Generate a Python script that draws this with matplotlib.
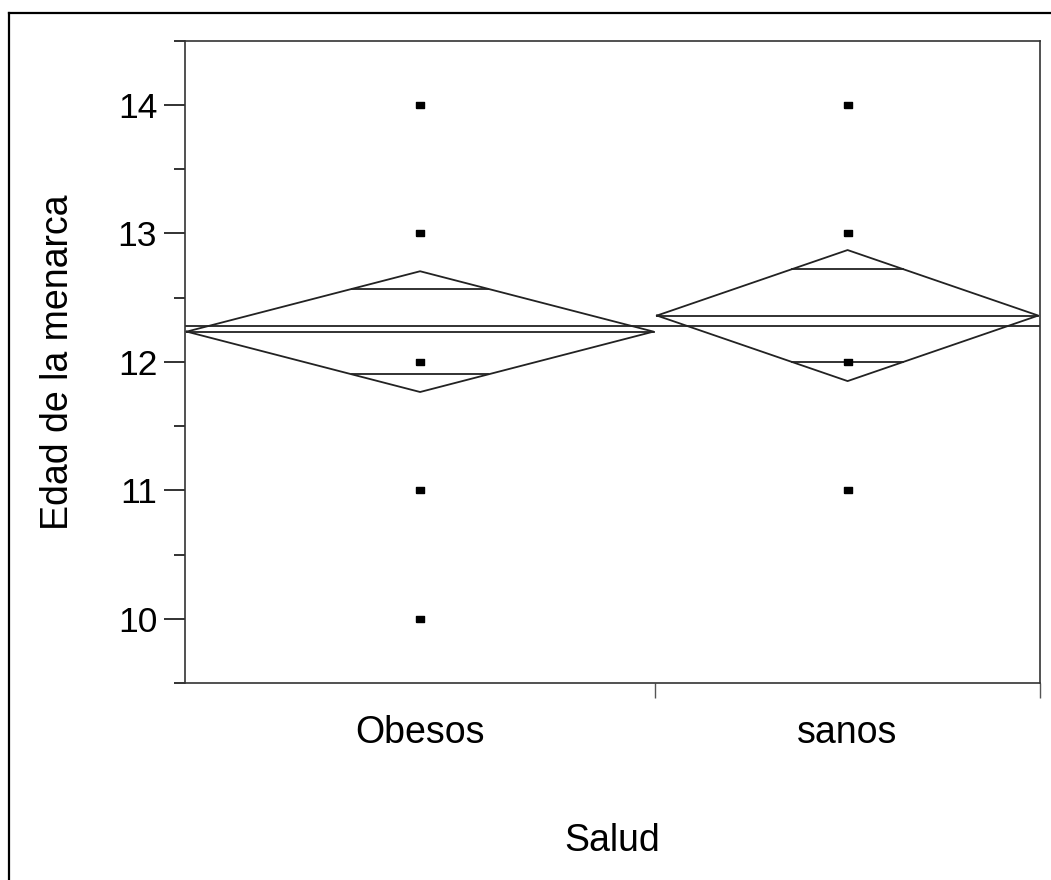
import numpy as np
import matplotlib
matplotlib.use("Agg")
import matplotlib.pyplot as plt
from matplotlib.lines import Line2D

plt.rcParams['font.family'] = ['Liberation Sans', 'DejaVu Sans']

# datos
grupos = ["Obesos", "sanos"]
n_grupo = [22, 18]
medias = [12.235, 12.36]
ic_mitad = [0.47, 0.51]     # mitad del intervalo de confianza 95%
media_total = 12.28
valores = [[10, 11, 12, 13, 14],
           [11, 12, 13, 14]]

fig = plt.figure(figsize=(10.51, 8.8), dpi=100)
ax = fig.add_axes([0.176, 0.2239, 0.8135, 0.7299])

col = '#222222'
lw = 1.3

# posiciones de los grupos segun tamano de muestra
bordes = np.concatenate([[0], np.cumsum(n_grupo)]) / sum(n_grupo)
centros = (bordes[:-1] + bordes[1:]) / 2
gap = 0.002

ax.axhline(media_total, color=col, lw=lw)

for i in range(len(grupos)):
    x0, x1, xc = bordes[i] + gap, bordes[i + 1] - gap, centros[i]
    m, h = medias[i], ic_mitad[i]
    # diamante
    ax.plot([x0, xc, x1, xc, x0], [m, m + h, m, m - h, m], color=col, lw=lw)
    ax.plot([x0, x1], [m, m], color=col, lw=lw)
    # marcas de solapamiento
    d = h / np.sqrt(2)
    hw = (xc - x0) * (1 - d / h)
    for s in (1, -1):
        ax.plot([xc - hw, xc + hw], [m + s * d, m + s * d], color=col, lw=lw)
    # puntos
    rect = [(-4, -3), (4, -3), (4, 3), (-4, 3), (-4, -3)]
    ax.plot([xc] * len(valores[i]), valores[i], linestyle='none', marker=rect,
            markersize=6, color='black')

ax.set_xlim(0, 1)
ax.set_ylim(9.5, 14.5)
ax.set_yticks([10, 11, 12, 13, 14])
ax.set_yticks(np.arange(9.5, 14.6, 1.0), minor=True)
ax.set_xticks(bordes[1:])
ax.set_xticklabels([])
ax.tick_params(axis='y', which='major', length=15, width=1.3, labelsize=25.5,
               pad=5, color=col)
ax.tick_params(axis='y', which='minor', length=8, width=1.3, color=col)
ax.tick_params(axis='x', which='major', length=11, width=1.0, color='#555555')
for i, g in enumerate(grupos):
    ax.text(centros[i], -0.05, g, transform=ax.transAxes, ha='center',
            va='top', fontsize=27)
ax.set_xlabel("Salud", fontsize=27, labelpad=86)
ax.set_ylabel("Edad de la menarca", fontsize=27, labelpad=30)
for s in ax.spines.values():
    s.set_linewidth(1.2)
    s.set_color('#333333')

# marco exterior
fig.add_artist(Line2D([9 / 1051, 9 / 1051], [1 - 13 / 880, 0], color='black', lw=1.6))
fig.add_artist(Line2D([9 / 1051, 1], [1 - 13 / 880, 1 - 13 / 880], color='black', lw=1.6))

fig.savefig("out.png", dpi=100)
